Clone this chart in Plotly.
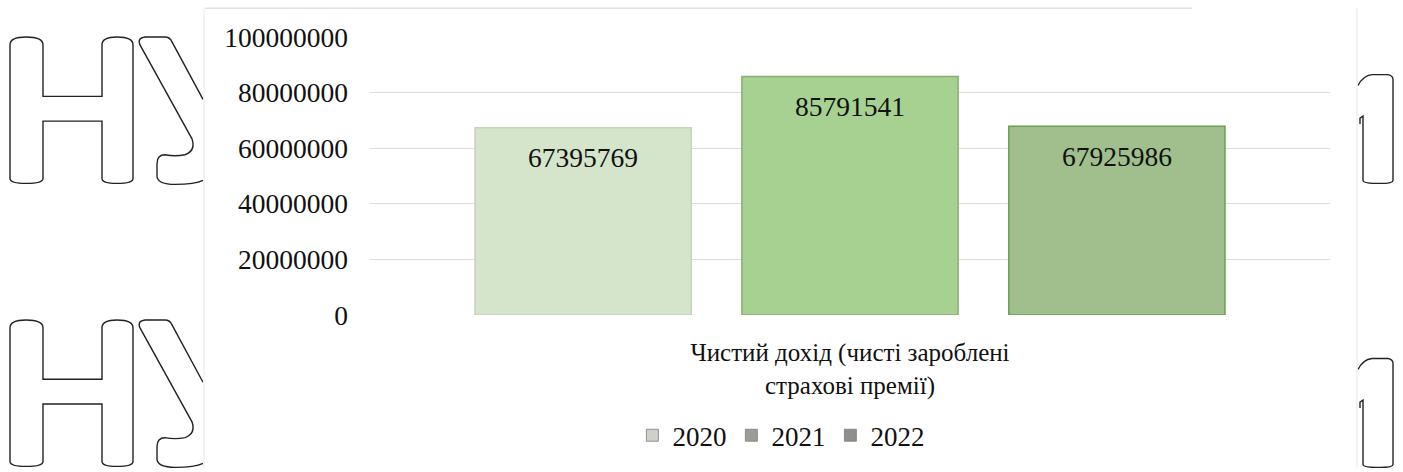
import plotly.graph_objects as go

# ---------------- data ----------------
category = ["Чистий дохід (чисті зароблені<br>страхові премії)"]
years = ["2020", "2021", "2022"]
values = [67395769, 85791541, 67925986]
y_ticks = [0, 20000000, 40000000, 60000000, 80000000, 100000000]

# ---------------- styling ----------------
W, H = 1403, 472
ML, MR, MT, MB = 370, 73, 37, 154
PW, PH = W - ML - MR, H - MT - MB
BARGAP, GROUPGAP = 0.166, 0.19
FONT = "'Liberation Serif', 'Times New Roman', 'DejaVu Serif', serif"
bar_fill = ["#d4e5cc", "#a7d190", "#a0bf8d"]
bar_line = ["#c3d5b9", "#86b06f", "#6a9e57"]
legend_fill = ["#cfd0ca", "#9c9d97", "#8e8f8a"]

fig = go.Figure()
for i, yr in enumerate(years):
    fig.add_trace(go.Bar(
        x=category, y=[values[i]], name=yr, showlegend=False,
        marker=dict(color=bar_fill[i], line=dict(color=bar_line[i], width=1.5)),
        hoverinfo="y",
    ))
# legend-only entries (grey squares as in the original)
for i, yr in enumerate(years):
    fig.add_trace(go.Scatter(
        x=[None], y=[None], name=yr, showlegend=True, mode="markers",
        marker=dict(symbol="square", size=12, color=legend_fill[i],
                    line=dict(color="#7d7e79", width=0.8)),
    ))

# value labels near the top inside each bar
slot = PW * (1 - BARGAP) / len(years)
for i, v in enumerate(values):
    fig.add_annotation(
        x=category[0], y=v, text=str(v), showarrow=False,
        xshift=(i - (len(years) - 1) / 2) * slot, yshift=-30,
        yanchor="middle", font=dict(family=FONT, size=27.5, color="#111111"),
    )

# ---------------- watermark-like outlines ----------------
def px(x):
    return (x - ML) / PW

def py(y):
    return (H - MB - y) / PH

def path(cmds, oy=0):
    out = []
    for c in cmds:
        op, nums = c[0], c[1:]
        pts = []
        for k in range(0, len(nums), 2):
            pts.append(f"{px(nums[k]):.5f},{py(nums[k + 1] + oy):.5f}")
        out.append(op + " " + " ".join(pts))
    return " ".join(out)

H_shape = [("M", 10, 45), ("Q", 10, 37, 26, 37), ("Q", 43, 37, 43, 45), ("L", 43, 97),
           ("L", 102, 97), ("L", 102, 45), ("Q", 102, 37, 117, 37), ("Q", 133, 37, 133, 45),
           ("L", 133, 180), ("Q", 133, 185, 117, 185), ("Q", 102, 185, 102, 180),
           ("L", 102, 122), ("L", 43, 122), ("L", 43, 180), ("Q", 43, 185, 26, 185),
           ("Q", 10, 185, 10, 180), ("Z",)]
U_shape = [("M", 203, 100), ("L", 172, 42), ("Q", 170, 37, 165, 37), ("L", 145, 37),
           ("Q", 137, 38, 140, 45), ("L", 192, 140), ("Q", 196, 152, 185, 156),
           ("Q", 175, 158, 165, 156), ("Q", 157, 156, 157, 165), ("L", 157, 178),
           ("Q", 158, 186, 175, 186), ("Q", 195, 186, 203, 182)]
R_shape = [("M", 1358, 86), ("Q", 1363, 76, 1372, 75), ("L", 1388, 75),
           ("Q", 1393, 76, 1393, 80), ("L", 1393, 182), ("Q", 1393, 185, 1380, 185),
           ("Q", 1363, 185, 1363, 182), ("L", 1363, 117), ("L", 1360, 119), ("L", 1360, 125)]

shapes = []
for shp, offs in ((H_shape, (0, 286)), (U_shape, (0, 286)), (R_shape, (0, 287))):
    for oy in offs:
        shapes.append(dict(type="path", xref="paper", yref="paper", path=path(shp, oy),
                           line=dict(color="#222222", width=1.4), layer="above"))
# faint chart-area border lines
shapes.append(dict(type="line", xref="paper", yref="paper", x0=px(205), x1=px(1192),
                   y0=py(8), y1=py(8), line=dict(color="#e2e2e2", width=1.5)))
shapes.append(dict(type="line", xref="paper", yref="paper", x0=px(204), x1=px(204),
                   y0=py(8), y1=py(472), line=dict(color="#f0f0f0", width=1.5)))
shapes.append(dict(type="line", xref="paper", yref="paper", x0=px(1357), x1=px(1357),
                   y0=py(8), y1=py(472), line=dict(color="#eeeeee", width=1.5)))

fig.update_layout(
    width=W, height=H,
    margin=dict(l=ML, r=MR, t=MT, b=MB, pad=0),
    paper_bgcolor="white", plot_bgcolor="white",
    barmode="group", bargap=BARGAP, bargroupgap=GROUPGAP,
    font=dict(family=FONT, size=27, color="#111111"),
    showlegend=True,
    legend=dict(orientation="h", x=0.428, xanchor="center", y=(H - MB - 440) / PH,
                yanchor="middle", font=dict(family=FONT, size=27, color="#111111"),
                bgcolor="rgba(0,0,0,0)", traceorder="normal", itemwidth=30),
    shapes=shapes,
    xaxis=dict(showgrid=False, showline=False, ticks="", zeroline=False,
               tickfont=dict(family=FONT, size=25, color="#111111"),
               ticklabelstandoff=20),
    yaxis=dict(range=[0, 100000000], tickvals=y_ticks,
               ticktext=[str(t) for t in y_ticks],
               showgrid=True, gridcolor="#dcdcdc", gridwidth=1.2,
               zeroline=False, showline=False, ticks="",
               tickfont=dict(family=FONT, size=27.5, color="#111111"),
               ticklabelstandoff=21),
)

fig.write_html("out.html")
